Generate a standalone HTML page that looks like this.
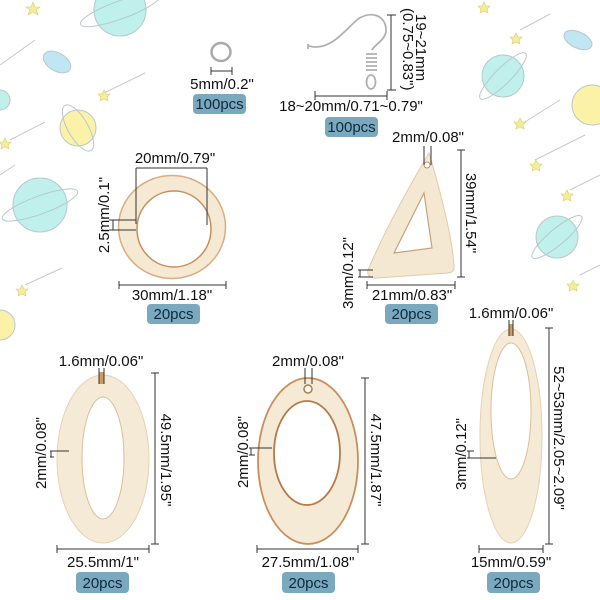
<!DOCTYPE html>
<html><head><meta charset="utf-8"><style>
html,body{margin:0;padding:0;background:#fff;width:600px;height:600px;overflow:hidden}
text{font-family:"Liberation Sans",sans-serif;font-size:15px;fill:#111}
.b{font-size:15px;fill:#0e2a3d;text-anchor:middle}
.t{text-anchor:middle}
.d{stroke:#333;stroke-width:1;fill:none}
</style></head><body>
<svg width="600" height="600" viewBox="0 0 600 600" xmlns="http://www.w3.org/2000/svg">
<g stroke="#c8c8c8" stroke-width="1" fill="none">
<line x1="0" y1="65" x2="35" y2="40"/><line x1="100" y1="95" x2="145" y2="73"/>
<line x1="10" y1="140" x2="45" y2="122"/><line x1="25" y1="285" x2="62" y2="268"/>
<line x1="0" y1="175" x2="15" y2="165"/><line x1="520" y1="30" x2="550" y2="14"/>
<line x1="520" y1="125" x2="560" y2="100"/><line x1="535" y1="160" x2="585" y2="135"/>
<line x1="570" y1="190" x2="600" y2="175"/><line x1="580" y1="275" x2="600" y2="265"/>
</g>
<g fill="#f4ec9a" stroke="#d8cf70" stroke-width="0.6">
<polygon points="33,2 35,7 40,7 36,10 38,15 33,12 28,15 30,10 26,7 31,7"/>
<polygon points="104,90 106,94 110,94 107,97 108,101 104,99 100,101 101,97 98,94 102,94"/>
<polygon points="5,138 7,142 11,142 8,145 9,149 5,147 1,149 2,145 -1,142 3,142"/>
<polygon points="22,285 24,289 28,289 25,292 26,296 22,294 18,296 19,292 16,289 20,289"/>
<polygon points="516,33 518,37 522,37 519,40 520,44 516,42 512,44 513,40 510,37 514,37"/>
<polygon points="484,2 486,6 490,6 487,9 488,13 484,11 480,13 481,9 478,6 482,6"/>
<polygon points="520,118 522,122 526,122 523,125 524,129 520,127 516,129 517,125 514,122 518,122"/>
<polygon points="536,160 538,164 542,164 539,167 540,171 536,169 532,171 533,167 530,164 534,164"/>
<polygon points="567,190 569,194 573,194 570,197 571,201 567,199 563,201 564,197 561,194 565,194"/>
<polygon points="573,280 575,284 579,284 576,287 577,291 573,289 569,291 570,287 567,284 571,284"/>
</g>
<g stroke="#b8c8cc" stroke-width="1">
<circle cx="120" cy="10" r="26" fill="#bff0ec"/>
<ellipse cx="120" cy="10" rx="42" ry="9" fill="none" transform="rotate(-20 120 10)"/>
<circle cx="78" cy="128" r="18" fill="#fbf2a8"/>
<ellipse cx="78" cy="128" rx="10" ry="26" fill="none" transform="rotate(-30 78 128)"/>
<circle cx="40" cy="205" r="27" fill="#bff0ec"/>
<ellipse cx="40" cy="205" rx="40" ry="9" fill="none" transform="rotate(-20 40 205)"/>
<ellipse cx="57" cy="62" rx="15" ry="9" fill="#bfe6f2" transform="rotate(30 57 62)"/>
<circle cx="0" cy="100" r="10" fill="#bff0ec"/>
<circle cx="0" cy="325" r="15" fill="#fbf2a8"/>
<circle cx="503" cy="76" r="21" fill="#bff0ec"/>
<ellipse cx="503" cy="76" rx="32" ry="8" fill="none" transform="rotate(-45 503 76)"/>
<circle cx="592" cy="105" r="20" fill="#fbf2a8"/>
<ellipse cx="578" cy="40" rx="15" ry="8" fill="#bfe6f2" transform="rotate(25 578 40)"/>
<circle cx="557" cy="237" r="21" fill="#bff0ec"/>
<ellipse cx="557" cy="237" rx="32" ry="8" fill="none" transform="rotate(-40 557 237)"/>
</g>

<ellipse cx="221" cy="52" rx="9.5" ry="9" fill="none" stroke="#aaa" stroke-width="2.5"/>
<path class="d" d="M211,67V75M232,67V75M211,71H232"/>
<text x="222" y="89" class="t">5mm/0.2"</text>
<rect x="193" y="94" width="53" height="20" rx="4" fill="#79a8bf"/>
<text x="219.5" y="109" class="b">100pcs</text>

<g fill="none" stroke="#b0b0b0" stroke-width="1.8">
<path d="M309,46 C330,52 345,30 358,19 C372,10 386,16 386,30 C386,40 375,44 372,50"/>
<path d="M366,54 L377,54 M366,58 L377,58 M366,62 L377,62 M366,66 L377,66 M366,70 L377,70"/>
<ellipse cx="371" cy="82" rx="4.5" ry="7"/>
<path d="M308,44 V49"/>
</g>
<path class="d" d="M387,15H396M391,15V90M387,90H396"/>
<text transform="translate(416,14) rotate(90)">19~21mm</text>
<text transform="translate(403,8) rotate(90)">(0.75~0.83")</text>
<path class="d" d="M315,91V100M387,91V100M315,96H387"/>
<text x="351" y="111" class="t">18~20mm/0.71~0.79"</text>
<rect x="325" y="117" width="53" height="20" rx="4" fill="#79a8bf"/>
<text x="351.5" y="132" class="b">100pcs</text>

<ellipse cx="172" cy="227" rx="53.5" ry="51.5" fill="#f5e9d3" stroke="#d9ae82" stroke-width="1.5"/>
<ellipse cx="174" cy="229" rx="37" ry="38" fill="#fff" stroke="#c98e5c" stroke-width="1.5"/>
<path class="d" d="M136,168H207M136,168V224M207,168V225M109,220H136M109,230H136M113,220V230"/>
<text x="175" y="163" class="t">20mm/0.79"</text>
<text transform="translate(109,215) rotate(-90)" class="t">2.5mm/0.1"</text>
<path class="d" d="M119,281V289M226,281V289M119,285H226"/>
<text x="172" y="300" class="t">30mm/1.18"</text>
<rect x="147" y="304" width="53" height="20" rx="4" fill="#79a8bf"/>
<text x="173.5" y="319" class="b">20pcs</text>

<path d="M429,153 C440,190 452,235 454,266 Q455,272 448,273 L377,278 Q366,278 368,270 C385,230 410,185 429,153 Z" fill="#f4e8d2" stroke="#e0cba8" stroke-width="1"/>
<circle cx="427" cy="165" r="3" fill="#fff" stroke="#c98e5c"/>
<path d="M424,193 L432,248 L394,253 Z" fill="#fff" stroke="#c9a27a" stroke-width="1.2"/>
<path class="d" d="M424,146V165M431,146V165"/>
<text x="428" y="142" class="t">2mm/0.08"</text>
<path class="d" d="M457,150H465M461,150V277M457,277H465"/>
<text transform="translate(466,213) rotate(90)" class="t">39mm/1.54"</text>
<path class="d" d="M358,270H373M358,277H373M360,270V277"/>
<text transform="translate(353,273) rotate(-90)" class="t">3mm/0.12"</text>
<path class="d" d="M367,281V289M455,281V289M367,285H455"/>
<text x="412" y="300" class="t">21mm/0.83"</text>
<rect x="385" y="304" width="53" height="20" rx="4" fill="#79a8bf"/>
<text x="411.5" y="319" class="b">20pcs</text>

<ellipse cx="103" cy="459" rx="46" ry="84" fill="#f5ead6" stroke="#e6d2b2" stroke-width="1"/>
<ellipse cx="103" cy="458" rx="21" ry="61" fill="#fff" stroke="#dcbe98" stroke-width="1"/>
<rect x="99" y="372" width="5" height="12" fill="#d29a5c"/>
<path class="d" d="M99,368V384M104,368V384"/>
<text x="101" y="366" class="t">1.6mm/0.06"</text>
<path class="d" d="M151,373H159M155,373V544M151,544H159"/>
<text transform="translate(161,460) rotate(90)" class="t">49.5mm/1.95"</text>
<path class="d" d="M50,451H69M50,457H54M51,451V457"/>
<text transform="translate(46,453) rotate(-90)" class="t">2mm/0.08"</text>
<path class="d" d="M57,545V553M149,545V553M57,549H149"/>
<text x="103" y="567" class="t">25.5mm/1"</text>
<rect x="76" y="572" width="53" height="21" rx="4" fill="#79a8bf"/>
<text x="102.5" y="588" class="b">20pcs</text>

<ellipse cx="308" cy="461" rx="50" ry="83" fill="#f5ead6" stroke="#c98e5c" stroke-width="1.8"/>
<ellipse cx="307" cy="453" rx="33" ry="52" fill="#fff" stroke="#b97a48" stroke-width="1.8"/>
<circle cx="308" cy="389" r="4" fill="#fff" stroke="#b97a48" stroke-width="1.5"/>
<path class="d" d="M305,368V384M312,368V384"/>
<text x="308" y="366" class="t">2mm/0.08"</text>
<path class="d" d="M361,378H369M365,378V544M361,544H369"/>
<text transform="translate(371,460) rotate(90)" class="t">47.5mm/1.87"</text>
<path class="d" d="M249,448H272M249,455H255M251,448V455"/>
<text transform="translate(248,452) rotate(-90)" class="t">2mm/0.08"</text>
<path class="d" d="M257,545V553M358,545V553M257,549H358"/>
<text x="308" y="567" class="t">27.5mm/1.08"</text>
<rect x="282" y="572" width="53" height="21" rx="4" fill="#79a8bf"/>
<text x="308.5" y="588" class="b">20pcs</text>

<ellipse cx="511" cy="436" rx="31" ry="107" fill="#f5ead6" stroke="#e6d2b2" stroke-width="1"/>
<ellipse cx="511" cy="411" rx="20" ry="68" fill="#fff" stroke="#dcbe98" stroke-width="1"/>
<rect x="509" y="324" width="4" height="12" fill="#d29a5c"/>
<path class="d" d="M509,320V336M513,320V336"/>
<text x="511" y="318" class="t">1.6mm/0.06"</text>
<path class="d" d="M545,328H553M549,328V544M545,544H553"/>
<text transform="translate(554,438) rotate(90)" class="t">52~53mm/2.05~2.09"</text>
<path class="d" d="M467,451H474M467,458H496M469,451V458"/>
<text transform="translate(466,454) rotate(-90)" class="t">3mm/0.12"</text>
<path class="d" d="M479,545V553M543,545V553M479,549H543"/>
<text x="511" y="567" class="t">15mm/0.59"</text>
<rect x="487" y="572" width="53" height="21" rx="4" fill="#79a8bf"/>
<text x="513.5" y="588" class="b">20pcs</text>
</svg>
</body></html>
